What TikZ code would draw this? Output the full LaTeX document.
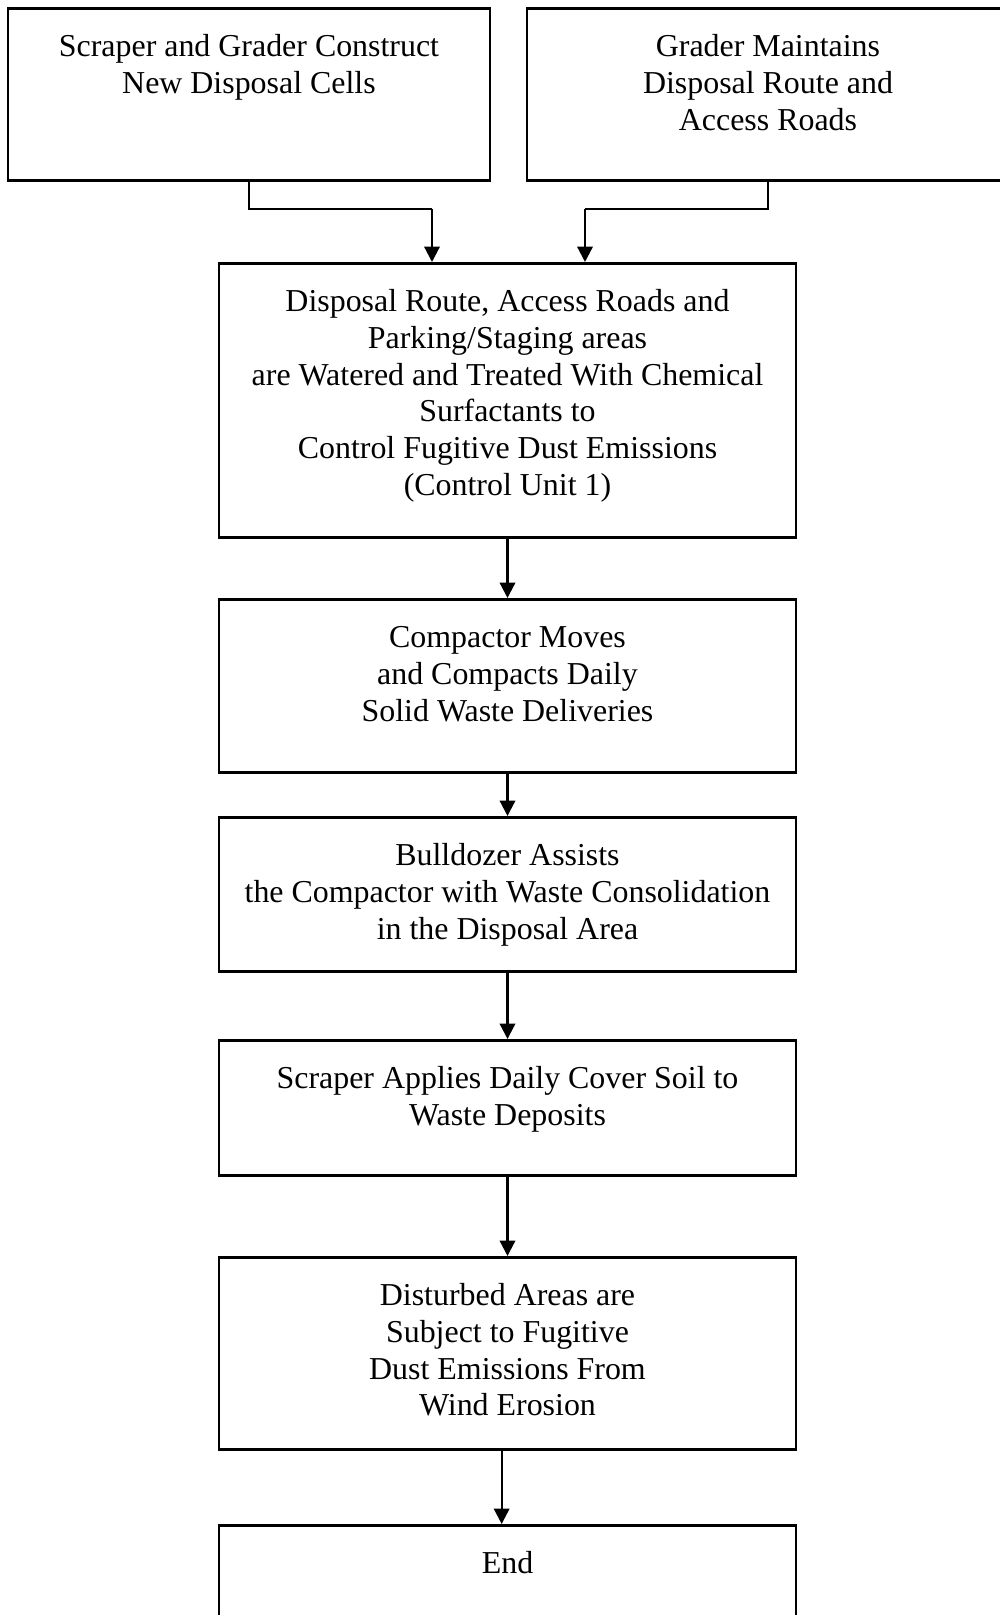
\documentclass[tikz,border=0pt]{standalone}
\usepackage{fontspec}
\setmainfont{Liberation Serif}
\usetikzlibrary{arrows.meta,positioning}

\newcommand{\pxu}{0.376pt}

\tikzset{
	stepbox/.style 2 args={draw, line width=0.95pt, rectangle, inner sep=0pt, anchor=north,
		minimum width=#1*\pxu, minimum height=#2*\pxu},
	steptext/.style={align=center, inner sep=0pt, anchor=north, font=\fontsize{12}{13.8}\selectfont},
	flow/.style={line width=0.85pt, -{Triangle[length=5.8pt,width=5.8pt]}},
	feed/.style={line width=0.45pt}
}

\begin{document}
\begin{tikzpicture}[x=0.376pt, y=-0.376pt]

		\useasboundingbox (0, 0) rectangle (1000, 1615);
		\clip (0, 0) rectangle (1000, 1615);

		% boxes
		\node[stepbox={482}{172}] (scrape) at (249, 7) {};
		\node[stepbox={482}{172}] (grade) at (768, 7) {};
		\node[stepbox={577}{274}] (route) at (507.5, 262) {};
		\node[stepbox={577}{173}] (compact) at (507.5, 598) {};
		\node[stepbox={577}{154}] (dozer) at (507.5, 816) {};
		\node[stepbox={577}{135}] (cover) at (507.5, 1039) {};
		\node[stepbox={577}{192}] (wind) at (507.5, 1256) {};
		\node[stepbox={577}{135}] (finish) at (507.5, 1524) {};

		% texts
		\node[steptext] (scrapetxt) at ([yshift=-8.8pt]scrape.north) {\strut Scraper and Grader Construct\\New Disposal Cells};
		\node[steptext] (gradetxt) at ([yshift=-8.8pt]grade.north) {\strut Grader Maintains\\Disposal Route and\\Access Roads};
		\node[steptext] (routetxt) at ([yshift=-8.8pt]route.north) {\strut Disposal Route, Access Roads and\\Parking/Staging areas\\are Watered and Treated With Chemical\\Surfactants to\\Control Fugitive Dust Emissions\\(Control Unit 1)};
		\node[steptext] (compacttxt) at ([yshift=-8.8pt]compact.north) {\strut Compactor Moves\\and Compacts Daily\\Solid Waste Deliveries};
		\node[steptext] (dozertxt) at ([yshift=-8.8pt]dozer.north) {\strut Bulldozer Assists\\the Compactor with Waste Consolidation\\in the Disposal Area};
		\node[steptext] (covertxt) at ([yshift=-8.8pt]cover.north) {\strut Scraper Applies Daily Cover Soil to\\Waste Deposits};
		\node[steptext] (windtxt) at ([yshift=-8.8pt]wind.north) {\strut Disturbed Areas are\\Subject to Fugitive\\Dust Emissions From\\Wind Erosion};
		\node[steptext] (finishtxt) at ([yshift=-8.8pt]finish.north) {\strut End};

		% feeds from the top boxes
		\coordinate (lbend) at (432, 209);
		\coordinate (rbend) at (585, 209);
		\draw[feed] (scrape.south) |- (lbend);
		\draw[feed] (grade.south) |- (rbend);
		\draw[flow] (lbend) -- (lbend |- route.north);
		\draw[flow] (rbend) -- (rbend |- route.north);

		% main chain
		\draw[flow] (route) -- (compact);
		\draw[flow] (compact) -- (dozer);
		\draw[flow] (dozer) -- (cover);
		\draw[flow] (cover) -- (wind);
		\draw[flow] ([xshift=-2.2pt]wind.south) -- ([xshift=-2.2pt]finish.north);

	\end{tikzpicture}
\end{document}
